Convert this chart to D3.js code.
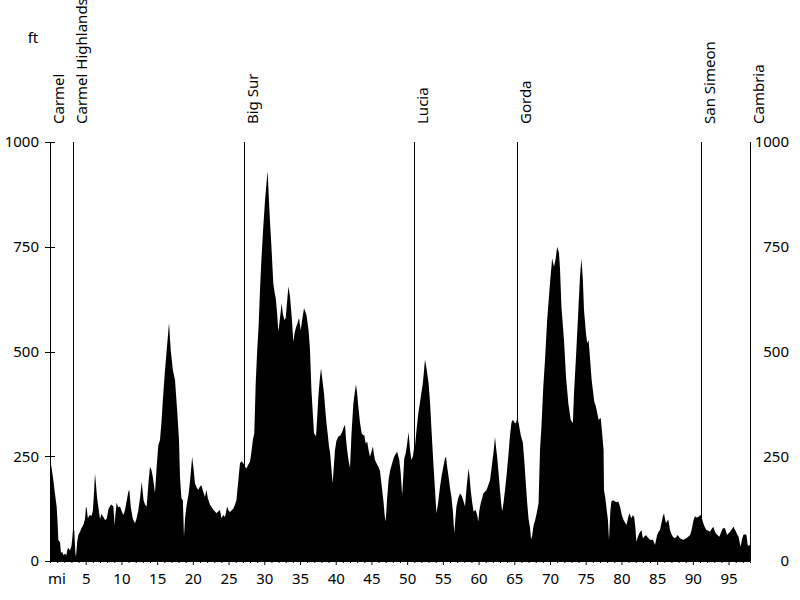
<!DOCTYPE html>
<html>
<head>
<meta charset="utf-8">
<script src="https://cdn.jsdelivr.net/npm/d3@7"></script>
<style>
  body { margin: 0; background: #fff; }
  text { font-family: "Noto Sans", sans-serif; font-size: 15px; fill: #000; }
</style>
</head>
<body>
<script>
// profile points: distance (mi) and elevation (ft)
var miles = [0,0.2,0.47,0.7,0.93,1.05,1.17,1.4,1.54,1.7,1.9,2.1,2.3,2.45,2.57,2.8,3,3.15,3.27,3.4,3.55,3.64,3.8,3.97,4.2,4.43,4.7,4.9,5.04,5.15,5.3,5.55,5.83,6,6.15,6.3,6.45,6.6,6.8,7,7.2,7.47,7.7,7.93,8.2,8.4,8.6,8.87,9.05,9.15,9.33,9.55,9.8,10.05,10.27,10.5,10.75,10.97,11.1,11.3,11.6,11.9,12.1,12.37,12.6,12.83,12.95,13.1,13.3,13.53,13.8,14,14.2,14.4,14.7,14.95,15.17,15.4,15.6,15.8,16.1,16.4,16.66,16.8,16.9,17.2,17.5,17.8,18.06,18.2,18.4,18.6,18.76,18.9,19.1,19.4,19.6,19.9,20.1,20.3,20.55,20.77,21,21.2,21.45,21.7,21.9,22.1,22.4,22.65,22.9,23.1,23.3,23.55,23.8,24,24.25,24.5,24.8,25,25.2,25.45,25.67,25.9,26.1,26.35,26.6,26.8,27.06,27.3,27.5,27.75,28,28.2,28.4,28.6,28.8,29,29.2,29.4,29.6,29.86,30.1,30.3,30.47,30.6,30.8,31,31.26,31.45,31.6,31.8,31.97,32.2,32.43,32.6,32.8,33,33.2,33.37,33.6,33.85,34.07,34.25,34.4,34.6,34.86,35.1,35.3,35.56,35.75,35.9,36.2,36.4,36.6,36.8,36.96,37.24,37.4,37.57,37.75,37.94,38.15,38.36,38.55,38.7,38.9,39.06,39.2,39.4,39.57,39.75,39.9,40.1,40.4,40.7,40.95,41.1,41.3,41.45,41.6,41.8,42,42.2,42.47,42.65,42.84,43,43.17,43.4,43.63,43.85,44,44.2,44.4,44.6,44.8,45,45.2,45.35,45.5,45.75,45.97,46.2,46.4,46.7,46.85,47,47.2,47.4,47.6,47.9,48.1,48.3,48.6,48.9,49.1,49.3,49.45,49.6,49.8,50,50.2,50.4,50.6,50.8,51,51.1,51.3,51.56,51.9,52.2,52.5,52.75,53,53.2,53.45,53.7,53.9,54.1,54.35,54.6,54.85,55.07,55.3,55.44,55.6,55.8,56,56.2,56.4,56.6,56.75,56.9,57.15,57.4,57.6,57.85,58.1,58.35,58.6,58.75,58.9,59.1,59.3,59.6,59.8,59.96,60.1,60.3,60.5,60.67,60.9,61.1,61.35,61.6,61.9,62.1,62.3,62.45,62.6,62.8,63,63.15,63.3,63.5,63.7,63.95,64.2,64.4,64.6,64.8,65.1,65.25,65.4,65.6,65.9,66.2,66.4,66.6,66.8,67,67.2,67.35,67.5,67.7,67.9,68.15,68.4,68.6,68.8,69.06,69.3,69.6,70,70.3,70.56,70.8,71,71.26,71.4,71.6,71.96,72.24,72.57,72.9,73.2,73.36,73.64,73.97,74.2,74.4,74.6,74.76,75.04,75.2,75.4,75.55,75.83,76.2,76.44,76.8,77.1,77.3,77.5,77.56,77.75,77.95,78.1,78.26,78.45,78.6,78.85,79.1,79.35,79.56,79.8,80.05,80.3,80.5,80.7,80.9,81.1,81.25,81.4,81.6,81.8,81.95,82.1,82.3,82.5,82.65,82.8,83,83.2,83.44,83.6,83.8,84.1,84.4,84.55,84.7,84.85,85,85.2,85.4,85.6,85.8,85.96,86.1,86.24,86.4,86.57,86.8,87,87.2,87.5,87.7,87.9,88.05,88.2,88.45,88.7,88.9,89.1,89.35,89.6,89.8,89.96,90.1,90.3,90.5,90.76,90.95,91.1,91.3,91.46,91.7,91.9,92.15,92.4,92.6,92.86,93,93.2,93.45,93.7,93.95,94.2,94.5,94.65,94.8,95,95.2,95.45,95.7,95.85,96.04,96.2,96.4,96.55,96.7,96.85,97.06,97.3,97.5,97.7,98];
var elevation = [240,225,193,160,130,95,50,45,19,22,14,18,14,28,31,25,35,60,88,70,20,10,45,62,70,79,88,100,130,125,102,110,108,120,160,209,180,150,125,100,112,105,98,100,125,131,135,130,86,110,139,128,130,118,110,122,145,165,170,130,100,90,100,122,150,189,170,145,135,130,190,225,217,200,162,230,277,289,330,384,456,516,568,530,504,456,432,360,289,200,150,145,58,100,130,160,190,249,220,185,175,170,178,181,165,153,170,150,134,128,122,118,114,118,122,102,110,105,130,120,117,122,125,135,145,190,233,238,233,225,221,230,237,260,289,305,425,500,559,647,720,798,860,900,931,880,810,750,663,640,628,590,547,580,615,590,575,580,620,655,632,580,523,545,555,565,580,551,575,603,595,587,551,504,408,350,305,298,340,392,430,460,430,400,360,330,300,273,260,220,185,230,265,287,298,300,310,318,325,290,265,240,222,300,376,400,422,400,368,330,305,300,300,280,285,265,249,260,273,255,241,232,225,215,185,140,110,94,150,193,215,233,245,253,261,241,210,157,200,245,257,280,308,265,241,250,273,273,310,352,390,424,481,455,424,380,300,225,170,114,140,177,205,225,245,249,225,201,175,153,120,66,100,130,150,161,157,145,130,180,221,200,169,140,118,122,110,94,120,138,150,161,165,169,180,193,233,260,296,270,249,210,169,140,118,140,169,210,257,300,330,337,329,330,341,330,301,282,240,190,140,100,80,52,60,85,96,115,138,265,320,416,480,575,663,722,702,722,750,735,698,607,527,440,376,337,329,400,488,599,679,722,671,599,543,520,527,496,432,380,368,337,341,305,265,169,150,120,100,50,120,142,145,142,140,142,130,110,98,92,86,100,114,108,102,110,104,80,46,58,66,70,74,54,58,62,58,54,50,51,45,38,50,62,70,74,90,106,114,100,90,96,98,74,65,58,54,58,62,58,54,52,51,53,54,58,62,72,86,98,107,104,105,108,110,100,90,80,74,72,70,76,82,74,66,62,58,68,78,78,70,62,66,70,76,82,76,70,64,58,45,34,50,62,64,62,36,38];

// towns along the route
var towns = ["Carmel", "Carmel Highlands", "Big Sur", "Lucia", "Gorda", "San Simeon", "Cambria"];
var townMiles = [0, 3.27, 27.2, 50.9, 65.4, 91.2, 98];

var elevTicks = [0, 250, 500, 750, 1000];

var WIDTH = 800, HEIGHT = 600;
var plotLeft = 50, plotRight = 750, plotTop = 142, plotBottom = 561;

var svg = d3.select("body").append("svg")
  .attr("width", WIDTH)
  .attr("height", HEIGHT);

var x = d3.scaleLinear().domain([0, 98]).range([plotLeft, plotRight]);
var y = d3.scaleLinear().domain([0, 1000]).range([plotBottom, plotTop]);

var data = miles.map((m, i) => [m, elevation[i]]);

// town marker lines (under the profile)
svg.append("g").selectAll("line")
  .data(townMiles)
  .join("line")
    .attr("x1", d => Math.round(x(d)) + 0.5)
    .attr("x2", d => Math.round(x(d)) + 0.5)
    .attr("y1", plotTop)
    .attr("y2", plotBottom)
    .attr("stroke", "#000")
    .attr("stroke-width", 1);

svg.append("g").selectAll("text")
  .data(towns)
  .join("text")
    .attr("transform", (d, i) => `translate(${Math.round(x(townMiles[i])) + 14},124) rotate(-90)`)
    .text(d => d);

// elevation profile
var area = d3.area()
  .x(d => x(d[0]))
  .y0(plotBottom)
  .y1(d => y(d[1]));

svg.append("path")
  .datum(data)
  .attr("d", area)
  .attr("fill", "#000")
  .attr("stroke", "none");

// left elevation axis
var gl = svg.append("g");
gl.append("line")
  .attr("x1", plotLeft + 0.5).attr("x2", plotLeft + 0.5)
  .attr("y1", plotTop).attr("y2", plotBottom)
  .attr("stroke", "#000");
gl.selectAll(".tick")
  .data(elevTicks)
  .join("line")
    .attr("class", "tick")
    .attr("x1", plotLeft - 5).attr("x2", plotLeft + 5)
    .attr("y1", d => Math.round(y(d)) + 0.5)
    .attr("y2", d => Math.round(y(d)) + 0.5)
    .attr("stroke", "#000");
gl.selectAll("text")
  .data(elevTicks)
  .join("text")
    .attr("x", 39)
    .attr("y", d => y(d))
    .attr("dy", "0.36em")
    .attr("text-anchor", "end")
    .text(d => d);

// right elevation labels
svg.append("g").selectAll("text")
  .data(elevTicks)
  .join("text")
    .attr("x", 789)
    .attr("y", d => y(d))
    .attr("dy", "0.36em")
    .attr("text-anchor", "end")
    .text(d => d);

svg.append("text")
  .attr("x", 33)
  .attr("y", 43)
  .attr("text-anchor", "middle")
  .text("ft");

// distance axis
var xAxis = d3.axisBottom(x)
  .tickValues(d3.range(1, 98))
  .tickSizeOuter(0)
  .tickSize(2)
  .tickFormat("");

var gx = svg.append("g")
  .attr("transform", `translate(0,${plotBottom})`)
  .call(xAxis);
gx.select(".domain").attr("stroke", "#000");
gx.selectAll(".tick line")
  .attr("stroke", "#000")
  .attr("y2", d => d % 5 === 0 ? 4 : 2);
gx.selectAll(".tick")
  .filter(d => d % 5 === 0)
  .append("text")
    .attr("y", 22.5)
    .attr("text-anchor", "middle")
    .text(d => d);

svg.append("text")
  .attr("x", 48)
  .attr("y", plotBottom + 22.5)
  .text("mi");
</script>
</body>
</html>
